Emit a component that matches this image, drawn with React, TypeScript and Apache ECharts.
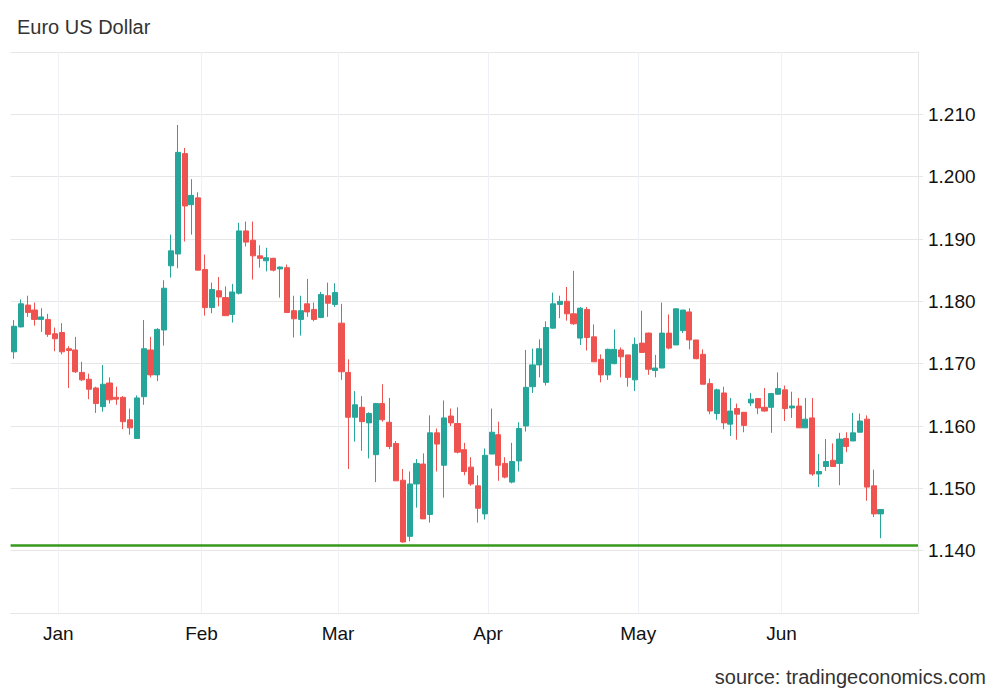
import React, { useEffect, useRef } from 'react';
import * as echarts from 'echarts';

// Trading days shown on the category axis
const decDays = [22, 23, 24, 26, 29, 30, 31];
const janDays = [2, 5, 6, 7, 8, 9, 12, 13, 14, 15, 16, 19, 20, 21, 22, 23, 26, 27, 28, 29, 30];
const febDays = [2, 3, 4, 5, 6, 9, 10, 11, 12, 13, 16, 17, 18, 19, 20, 23, 24, 25, 26, 27];
const marDays = [2, 3, 4, 5, 6, 9, 10, 11, 12, 13, 16, 17, 18, 19, 20, 23, 24, 25, 26, 27, 30, 31];
const aprDays = [1, 2, 3, 6, 7, 8, 9, 10, 13, 14, 15, 16, 17, 20, 21, 22, 23, 24, 27, 28, 29, 30];
const mayDays = [1, 4, 5, 6, 7, 8, 11, 12, 13, 14, 15, 18, 19, 20, 21, 22, 25, 26, 27, 28, 29];
const junDays = [1, 2, 3, 4, 5, 8, 9, 10, 11, 12, 15, 16, 17, 18, 19, 22, 23, 24, 25, 26];

const monthLabels = ['Jan', 'Feb', 'Mar', 'Apr', 'May', 'Jun'];

// [open, close, low, high]
const decOhlc = [
  [1.1719, 1.1760, 1.1708, 1.1770],
  [1.1759, 1.1796, 1.1758, 1.1803],
  [1.1794, 1.1782, 1.1775, 1.1809],
  [1.1786, 1.1771, 1.1761, 1.1798],
  [1.1771, 1.1775, 1.1751, 1.1789],
  [1.1771, 1.1747, 1.1743, 1.1780],
  [1.1748, 1.1740, 1.1720, 1.1758],
];
const janOhlc = [
  [1.1750, 1.1719, 1.1715, 1.1765],
  [1.1724, 1.1721, 1.1661, 1.1728],
  [1.1722, 1.1687, 1.1685, 1.1743],
  [1.1686, 1.1674, 1.1672, 1.1703],
  [1.1675, 1.1659, 1.1643, 1.1684],
  [1.1661, 1.1636, 1.1621, 1.1663],
  [1.1631, 1.1667, 1.1623, 1.1698],
  [1.1669, 1.1642, 1.1636, 1.1678],
  [1.1646, 1.1643, 1.1634, 1.1663],
  [1.1646, 1.1607, 1.1595, 1.1648],
  [1.1610, 1.1597, 1.1586, 1.1628],
  [1.1580, 1.1645, 1.1580, 1.1649],
  [1.1647, 1.1724, 1.1634, 1.1770],
  [1.1722, 1.1682, 1.1678, 1.1743],
  [1.1682, 1.1755, 1.1672, 1.1757],
  [1.1754, 1.1821, 1.1729, 1.1834],
  [1.1857, 1.1881, 1.1838, 1.1907],
  [1.1876, 1.2039, 1.1853, 1.2083],
  [1.2037, 1.1953, 1.1896, 1.2046],
  [1.1955, 1.1970, 1.1907, 1.1996],
  [1.1966, 1.1850, 1.1850, 1.1975],
];
const febOhlc = [
  [1.1851, 1.1790, 1.1777, 1.1875],
  [1.1790, 1.1819, 1.1781, 1.1830],
  [1.1817, 1.1807, 1.1792, 1.1839],
  [1.1806, 1.1777, 1.1777, 1.1824],
  [1.1779, 1.1815, 1.1766, 1.1828],
  [1.1813, 1.1913, 1.1811, 1.1926],
  [1.1913, 1.1895, 1.1888, 1.1928],
  [1.1898, 1.1873, 1.1835, 1.1928],
  [1.1873, 1.1869, 1.1854, 1.1890],
  [1.1865, 1.1870, 1.1848, 1.1886],
  [1.1869, 1.1850, 1.1848, 1.1870],
  [1.1852, 1.1855, 1.1806, 1.1856],
  [1.1854, 1.1782, 1.1782, 1.1859],
  [1.1785, 1.1772, 1.1742, 1.1809],
  [1.1771, 1.1785, 1.1745, 1.1809],
  [1.1796, 1.1783, 1.1775, 1.1836],
  [1.1787, 1.1771, 1.1768, 1.1798],
  [1.1774, 1.1811, 1.1773, 1.1815],
  [1.1809, 1.1797, 1.1775, 1.1830],
  [1.1795, 1.1814, 1.1791, 1.1829],
];
const marOhlc = [
  [1.1765, 1.1687, 1.1674, 1.1796],
  [1.1686, 1.1614, 1.1531, 1.1707],
  [1.1614, 1.1634, 1.1575, 1.1656],
  [1.1630, 1.1607, 1.1560, 1.1648],
  [1.1605, 1.1620, 1.1548, 1.1622],
  [1.1554, 1.1636, 1.1510, 1.1637],
  [1.1636, 1.1610, 1.1607, 1.1667],
  [1.1606, 1.1567, 1.1563, 1.1645],
  [1.1572, 1.1512, 1.1512, 1.1576],
  [1.1513, 1.1414, 1.1413, 1.1531],
  [1.1423, 1.1507, 1.1415, 1.1527],
  [1.1507, 1.1540, 1.1469, 1.1547],
  [1.1539, 1.1451, 1.1451, 1.1556],
  [1.1458, 1.1589, 1.1445, 1.1617],
  [1.1589, 1.1571, 1.1527, 1.1596],
  [1.1537, 1.1613, 1.1485, 1.1641],
  [1.1616, 1.1605, 1.1600, 1.1628],
  [1.1604, 1.1558, 1.1556, 1.1630],
  [1.1562, 1.1527, 1.1521, 1.1573],
  [1.1534, 1.1507, 1.1504, 1.1550],
  [1.1504, 1.1468, 1.1445, 1.1521],
  [1.1459, 1.1553, 1.1450, 1.1564],
];
const aprOhlc = [
  [1.1555, 1.1590, 1.1555, 1.1628],
  [1.1586, 1.1537, 1.1512, 1.1607],
  [1.1540, 1.1518, 1.1516, 1.1550],
  [1.1510, 1.1543, 1.1508, 1.1573],
  [1.1544, 1.1596, 1.1527, 1.1606],
  [1.1600, 1.1662, 1.1591, 1.1722],
  [1.1663, 1.1698, 1.1653, 1.1724],
  [1.1698, 1.1724, 1.1678, 1.1739],
  [1.1670, 1.1758, 1.1665, 1.1768],
  [1.1757, 1.1796, 1.1756, 1.1814],
  [1.1795, 1.1800, 1.1773, 1.1809],
  [1.1800, 1.1780, 1.1769, 1.1823],
  [1.1780, 1.1764, 1.1762, 1.1849],
  [1.1741, 1.1789, 1.1730, 1.1791],
  [1.1787, 1.1742, 1.1721, 1.1791],
  [1.1743, 1.1703, 1.1703, 1.1763],
  [1.1707, 1.1682, 1.1670, 1.1715],
  [1.1682, 1.1723, 1.1674, 1.1724],
  [1.1700, 1.1723, 1.1699, 1.1755],
  [1.1722, 1.1711, 1.1678, 1.1726],
  [1.1714, 1.1678, 1.1663, 1.1714],
  [1.1674, 1.1731, 1.1656, 1.1742],
];
const mayOhlc = [
  [1.1733, 1.1718, 1.1717, 1.1785],
  [1.1749, 1.1691, 1.1682, 1.1750],
  [1.1689, 1.1693, 1.1678, 1.1714],
  [1.1693, 1.1749, 1.1693, 1.1798],
  [1.1749, 1.1725, 1.1723, 1.1779],
  [1.1730, 1.1788, 1.1730, 1.1789],
  [1.1753, 1.1786, 1.1749, 1.1786],
  [1.1783, 1.1738, 1.1723, 1.1789],
  [1.1738, 1.1708, 1.1707, 1.1738],
  [1.1715, 1.1667, 1.1667, 1.1723],
  [1.1668, 1.1624, 1.1619, 1.1676],
  [1.1620, 1.1658, 1.1610, 1.1660],
  [1.1653, 1.1605, 1.1595, 1.1663],
  [1.1603, 1.1624, 1.1584, 1.1645],
  [1.1628, 1.1619, 1.1578, 1.1636],
  [1.1622, 1.1601, 1.1590, 1.1622],
  [1.1637, 1.1643, 1.1632, 1.1653],
  [1.1644, 1.1629, 1.1619, 1.1645],
  [1.1630, 1.1624, 1.1623, 1.1661],
  [1.1630, 1.1652, 1.1589, 1.1653],
  [1.1651, 1.1660, 1.1650, 1.1686],
];
const junOhlc = [
  [1.1658, 1.1628, 1.1608, 1.1665],
  [1.1629, 1.1632, 1.1613, 1.1655],
  [1.1632, 1.1597, 1.1597, 1.1645],
  [1.1597, 1.1611, 1.1597, 1.1645],
  [1.1613, 1.1523, 1.1520, 1.1645],
  [1.1523, 1.1527, 1.1502, 1.1555],
  [1.1535, 1.1543, 1.1528, 1.1579],
  [1.1545, 1.1535, 1.1535, 1.1572],
  [1.1540, 1.1579, 1.1505, 1.1589],
  [1.1580, 1.1567, 1.1558, 1.1590],
  [1.1576, 1.1589, 1.1576, 1.1621],
  [1.1590, 1.1608, 1.1590, 1.1620],
  [1.1611, 1.1502, 1.1480, 1.1617],
  [1.1504, 1.1459, 1.1454, 1.1530],
  [1.1459, 1.1466, 1.1420, 1.1466],
];

const referenceLevel = 1.1409;
const yTickMin = 1.13;
const yTickMax = 1.22;
const yTickStep = 0.01;

const segments = [
  { year: 2025, month: 12, days: decDays, ohlc: decOhlc, label: '' },
  { year: 2026, month: 1, days: janDays, ohlc: janOhlc, label: monthLabels[0] },
  { year: 2026, month: 2, days: febDays, ohlc: febOhlc, label: monthLabels[1] },
  { year: 2026, month: 3, days: marDays, ohlc: marOhlc, label: monthLabels[2] },
  { year: 2026, month: 4, days: aprDays, ohlc: aprOhlc, label: monthLabels[3] },
  { year: 2026, month: 5, days: mayDays, ohlc: mayOhlc, label: monthLabels[4] },
  { year: 2026, month: 6, days: junDays, ohlc: junOhlc, label: monthLabels[5] },
];

const categories: string[] = [];
const candles: number[][] = [];
const monthStart: Record<number, string> = {};
segments.forEach((s) => {
  s.days.forEach((d, i) => {
    const idx = categories.length;
    if (i === 0 && s.label) monthStart[idx] = s.label;
    categories.push(
      `${s.year}-${String(s.month).padStart(2, '0')}-${String(d).padStart(2, '0')}`
    );
    if (i < s.ohlc.length) candles.push(s.ohlc[i]);
  });
});

const FONT = '"Liberation Sans", Arial, Helvetica, sans-serif';
const UP = '#26a69a';
const DOWN = '#ef5350';

export default function App() {
  const ref = useRef<HTMLDivElement>(null);

  useEffect(() => {
    if (!ref.current) return;
    const chart = echarts.init(ref.current, undefined, { renderer: 'svg' });
    const isMonthStart = (index: number) => monthStart[index] !== undefined;
    chart.setOption({
      animation: false,
      backgroundColor: '#ffffff',
      textStyle: { fontFamily: FONT },
      title: {
        text: 'Euro US Dollar',
        left: 17,
        top: 17,
        padding: 0,
        textStyle: { fontSize: 20, fontWeight: 'normal', color: '#333333', fontFamily: FONT },
      },
      grid: { left: 10.6, right: 82, top: 52, bottom: 80, containLabel: false },
      xAxis: {
        type: 'category',
        data: categories,
        boundaryGap: true,
        axisLine: { show: true, onZero: false, lineStyle: { color: '#e6e6e6', width: 1 } },
        axisTick: { show: false },
        axisLabel: {
          interval: (index: number) => isMonthStart(index),
          formatter: (_v: string, index: number) => monthStart[index] ?? '',
          fontSize: 19,
          color: '#111111',
          fontFamily: FONT,
          margin: 11,
          padding: [0, 7, 0, 0],
        },
        splitLine: {
          show: true,
          interval: (index: number) => isMonthStart(index),
          lineStyle: { color: '#eef1f6', width: 1 },
        },
      },
      yAxis: {
        type: 'value',
        position: 'right',
        min: yTickMin,
        max: yTickMax,
        interval: yTickStep,
        scale: true,
        axisLine: { show: true, lineStyle: { color: '#e6e6e6', width: 1 } },
        axisTick: { show: true, length: 5, lineStyle: { color: '#e6e6e6' } },
        axisLabel: {
          showMinLabel: false,
          showMaxLabel: false,
          formatter: (v: number) => v.toFixed(3),
          fontSize: 19,
          color: '#111111',
          fontFamily: FONT,
          margin: 10,
        },
        splitLine: { show: true, lineStyle: { color: '#e6e6e6', width: 1 } },
      },
      series: [
        {
          type: 'candlestick',
          data: candles,
          barWidth: 5.6,
          itemStyle: {
            color: UP,
            color0: DOWN,
            borderColor: UP,
            borderColor0: DOWN,
            borderWidth: 1,
          },
          markLine: {
            silent: true,
            precision: 4,
            symbol: ['none', 'none'],
            label: { show: false },
            lineStyle: { color: '#359a1c', width: 2.5, type: 'solid' },
            data: [{ yAxis: referenceLevel }],
          },
        },
      ],
      graphic: [
        {
          type: 'text',
          right: 14,
          top: 667,
          style: {
            text: 'source: tradingeconomics.com',
            fontSize: 20,
            fontFamily: FONT,
            fill: '#333333',
          },
        },
      ],
    });
    return () => chart.dispose();
  }, []);

  return (
    <div
      ref={ref}
      style={{ position: 'absolute', left: 0, top: 0, width: 1000, height: 693 }}
    />
  );
}
